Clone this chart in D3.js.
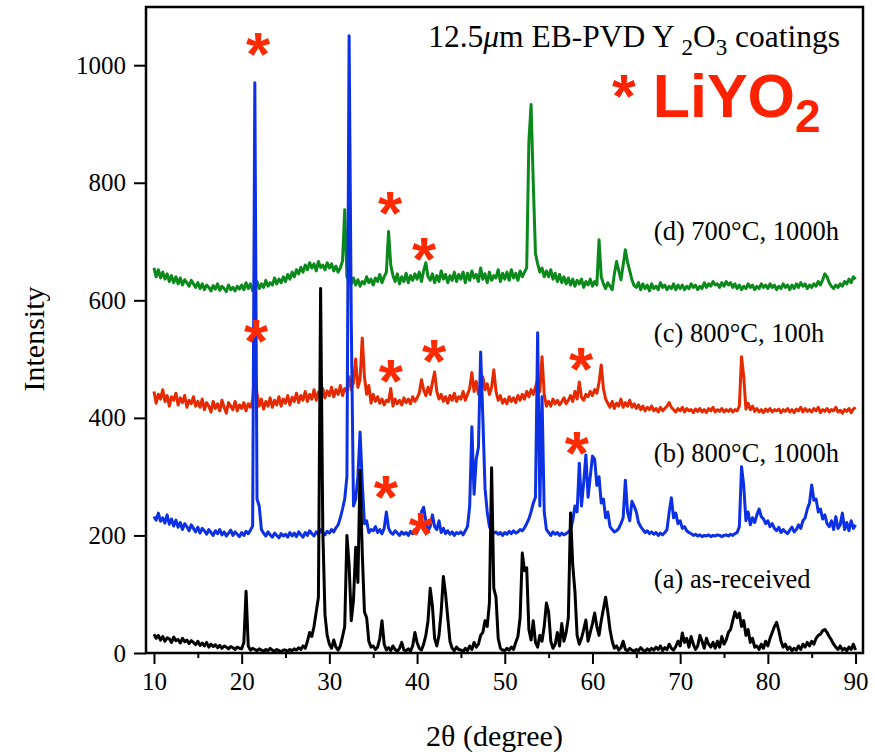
<!DOCTYPE html>
<html>
<head>
<meta charset="utf-8">
<script src="https://cdn.jsdelivr.net/npm/d3@7"></script>
<style>
    body { margin: 0; background: #fff; }
    svg { font-family: "Liberation Serif", "Times New Roman", serif; }
    .axis text { font-family: "Liberation Serif", "Times New Roman", serif; font-size: 25px; fill: #000; }
    .axis line { stroke: #000; stroke-width: 2; }
    .axis path { display: none; }
</style>
</head>
<body>
<svg id="chart"></svg>
<script>
// 2theta sampling of the scans
const twoThetaStart = 10;
const twoThetaStep = 0.25;

// (a) as-received
const scanA = [
    32,25,30,22,28,20,26,24,18,27,21,23,17,25,19,22,16,21,18,14,
    20,13,17,12,18,10,15,11,14,9,13,8,12,10,7,11,9,6,10,8,
    7,18,105,12,5,8,6,4,7,5,3,6,4,8,5,3,6,4,2,5,
    5,3,6,4,7,5,9,6,12,8,20,35,28,45,70,95,620,210,65,30,
    15,8,22,10,5,12,28,45,200,150,55,90,180,120,311,170,70,60,20,10,
    12,6,10,25,55,15,5,9,4,12,6,3,8,18,5,4,7,3,12,35,
    18,8,5,15,30,55,110,80,25,12,30,70,130,100,60,20,8,4,10,6,
    5,3,8,4,12,6,18,10,15,30,35,55,45,85,315,110,95,25,8,5,
    4,8,5,10,6,18,28,60,170,140,145,40,22,55,18,10,30,20,45,85,
    70,20,8,15,35,12,50,20,35,60,238,150,105,30,15,25,40,56,20,35,
    50,68,45,30,55,75,95,70,40,20,8,12,5,9,20,6,4,8,5,3,
    6,4,9,5,3,7,4,8,5,10,6,12,4,9,6,15,8,5,11,20,
    12,34,18,25,10,28,15,6,12,30,20,8,25,15,10,18,8,20,10,28,
    15,22,35,40,55,70,60,68,45,55,30,40,18,25,10,12,6,15,8,20,
    12,25,35,45,52,38,20,10,15,6,10,4,8,5,12,6,15,10,18,12,
    20,15,25,30,32,38,40,35,28,22,15,10,6,12,5,8,4,10,6,15,
    5
];

// (b) 800C, 1000h
const scanB = [
    232,226,238,224,230,221,235,219,228,216,226,214,222,210,220,215,208,218,212,206,
    214,204,212,208,202,210,205,200,208,203,210,201,206,199,204,209,200,206,202,198,
    205,200,207,203,209,216,970,262,250,210,204,199,206,201,197,204,200,196,203,199,
    202,197,205,199,204,198,206,201,197,205,200,208,203,199,206,202,210,205,201,207,
    204,210,206,213,218,230,245,262,300,1050,561,250,262,300,376,290,220,225,205,210,
    208,215,205,210,203,212,240,212,205,202,208,204,200,206,202,205,200,207,203,210,
    205,215,240,248,225,208,215,235,215,210,225,205,212,203,208,202,206,200,205,203,
    206,201,208,215,250,385,270,330,350,512,400,280,240,215,208,204,206,202,205,200,
    205,202,207,203,208,204,206,210,208,213,220,228,240,255,265,545,250,436,240,210,
    205,200,206,202,205,200,204,201,203,206,210,225,250,240,323,250,290,337,265,300,
    335,330,285,300,255,262,230,240,215,210,206,208,212,220,230,294,240,225,258,250,
    240,222,215,210,205,208,203,206,202,205,200,204,201,205,210,240,264,230,238,220,
    225,212,215,208,205,203,200,202,199,201,198,200,199,201,198,200,199,201,200,198,
    200,201,199,202,200,203,205,215,317,285,225,240,218,230,222,235,245,232,228,220,
    225,215,220,212,208,214,205,210,206,203,209,214,206,210,218,212,225,230,245,255,
    286,260,262,240,245,228,235,220,215,225,210,232,212,218,238,210,222,208,225,212,
    218
];

// (c) 800C, 100h
const scanC = [
    445,425,440,432,448,428,438,420,436,430,442,422,434,426,438,418,430,424,436,420,
    428,418,432,414,426,420,410,428,416,424,412,430,418,408,426,420,414,428,412,422,
    416,426,412,424,418,430,485,440,420,432,415,428,420,434,418,430,422,436,420,432,
    425,438,422,435,428,442,426,438,430,445,428,440,432,448,430,444,436,450,434,446,
    438,452,436,448,440,455,438,450,445,470,448,460,500,452,465,536,470,440,455,425,
    440,428,436,425,432,422,430,428,450,420,432,424,430,422,434,426,432,424,436,428,
    434,442,465,448,438,452,440,460,478,445,432,440,428,436,425,438,430,442,428,436,
    432,445,430,440,450,477,445,462,440,455,470,448,458,440,452,482,445,430,438,425,
    432,424,436,428,434,426,438,430,440,432,445,436,448,440,452,465,445,504,440,420,
    428,420,432,424,430,422,428,434,424,430,438,428,445,432,461,435,430,440,436,445,
    438,448,442,460,490,450,432,425,418,428,416,425,420,432,418,426,420,430,418,424,
    416,422,414,420,412,418,414,420,412,416,410,418,412,416,420,426,418,414,410,416,
    412,418,410,416,412,414,409,415,411,416,410,414,409,416,412,418,410,414,411,416,
    410,414,411,415,410,414,412,420,504,470,415,425,414,420,411,416,410,414,409,415,
    411,416,410,414,412,415,409,414,411,416,410,414,409,415,412,418,410,416,411,414,
    410,416,412,418,409,414,411,416,410,414,412,418,410,413,408,414,411,416,409,415,
    418
];

// (d) 700C, 1000h
const scanD = [
    655,640,652,638,648,636,645,632,642,630,640,628,638,626,635,630,624,634,628,622,
    630,620,628,618,626,622,616,625,619,628,617,624,620,615,626,618,622,616,624,619,
    626,618,630,620,628,616,625,632,620,628,622,634,624,630,626,638,628,636,630,640,
    632,644,636,648,640,652,645,656,648,660,652,664,655,662,650,666,656,660,652,664,
    655,662,650,658,648,655,667,754,640,632,628,638,626,635,624,632,628,640,630,636,
    626,638,632,644,630,640,648,717,660,642,632,645,628,640,632,646,630,642,634,645,
    636,648,632,650,664,640,634,645,630,642,632,650,636,644,630,642,634,648,632,644,
    636,648,630,646,634,650,638,644,632,655,636,645,630,648,634,642,638,652,632,646,
    636,648,634,652,638,646,634,650,640,648,655,870,933,800,680,662,648,655,640,650,
    640,652,636,646,632,644,630,640,628,638,626,636,624,634,628,636,622,632,626,636,
    624,632,626,703,640,628,620,630,624,618,645,666,650,635,660,686,665,650,635,625,
    622,630,618,628,620,626,616,628,620,624,618,630,622,626,618,624,620,628,618,626,
    620,626,618,624,620,628,622,626,618,624,620,630,622,628,624,632,626,628,622,630,
    624,632,626,630,622,628,620,626,618,624,620,628,622,626,618,624,620,628,622,626,
    620,628,622,626,618,624,620,628,622,626,618,626,620,628,622,630,624,628,620,626,
    622,628,624,632,626,635,645,640,630,624,620,626,622,628,624,632,628,636,630,640,
    636
];

const seriesLabels = ['(d) 700°C, 1000h', '(c) 800°C, 100h', '(b) 800°C, 1000h', '(a) as-received'];
// where each label sits: 2theta of its left edge, intensity of its baseline
const labelTwoTheta = [67, 67, 67, 67];
const labelIntensity = [702, 529, 325, 110];

// LiYO2 reflections marked with a star (2theta, intensity of the star centre)
const starTwoTheta = [21.86, 36.91, 40.79, 21.63, 37.02, 41.93, 58.69, 36.45, 40.44, 58.23];
const starIntensity = [1034, 764, 685, 546, 478, 512, 498, 281, 218, 355];

const xTicks = [10, 20, 30, 40, 50, 60, 70, 80, 90];
const xMinorTicks = [15, 25, 35, 45, 55, 65, 75, 85];
const yTicks = [0, 200, 400, 600, 800, 1000];

class XrdChart {
    constructor(_config) {
        this.config = {
            parentElement: _config.parentElement,
            containerWidth: 875,
            containerHeight: 752,
            margin: { top: 7, right: 12, bottom: 99, left: 146 }
        };
        this.scans = [
            { values: scanD, color: '#0a8a1a' },
            { values: scanC, color: '#e62a00' },
            { values: scanB, color: '#0c30e4' },
            { values: scanA, color: '#000000' }
        ];
        this.initVis();
    }

    initVis() {
        let vis = this;

        vis.width = vis.config.containerWidth - vis.config.margin.left - vis.config.margin.right;
        vis.height = vis.config.containerHeight - vis.config.margin.top - vis.config.margin.bottom;

        vis.xScale = d3.scaleLinear().domain([9.09, 90.85]).range([0, vis.width]);
        vis.yScale = d3.scaleLinear().domain([0, 1099]).range([vis.height, 0]);

        vis.svg = d3.select(vis.config.parentElement)
            .attr('width', vis.config.containerWidth)
            .attr('height', vis.config.containerHeight);

        vis.chart = vis.svg.append('g')
            .attr('transform', `translate(${vis.config.margin.left},${vis.config.margin.top})`);

        vis.chart.append('clipPath').attr('id', 'plotClip')
            .append('rect').attr('width', vis.width).attr('height', vis.height);

        vis.renderVis();
    }

    renderVis() {
        let vis = this;

        const line = d3.line()
            .x((d, i) => vis.xScale(twoThetaStart + i * twoThetaStep))
            .y(d => vis.yScale(d));

        vis.chart.append('g')
            .attr('clip-path', 'url(#plotClip)')
            .selectAll('path')
            .data(vis.scans)
            .join('path')
            .attr('fill', 'none')
            .attr('stroke', d => d.color)
            .attr('stroke-width', 3)
            .attr('stroke-linejoin', 'round')
            .attr('d', d => line(d.values));

        // frame
        vis.chart.append('rect')
            .attr('width', vis.width)
            .attr('height', vis.height)
            .attr('fill', 'none')
            .attr('stroke', '#000')
            .attr('stroke-width', 2.5);

        // axes
        vis.chart.append('g')
            .attr('class', 'axis')
            .attr('transform', `translate(0,${vis.height})`)
            .call(d3.axisBottom(vis.xScale).tickValues(xTicks).tickSize(11).tickPadding(8).tickFormat(d3.format('d')));

        vis.chart.append('g')
            .attr('class', 'axis')
            .attr('transform', `translate(0,${vis.height})`)
            .call(d3.axisBottom(vis.xScale).tickValues(xMinorTicks).tickSize(5).tickFormat(''));

        vis.chart.append('g')
            .attr('class', 'axis')
            .call(d3.axisLeft(vis.yScale).tickValues(yTicks).tickSize(12).tickPadding(8).tickFormat(d3.format('d')));

        vis.svg.append('text')
            .attr('transform', `translate(44, ${vis.config.margin.top + vis.height / 2 + 9}) rotate(-90)`)
            .attr('text-anchor', 'middle')
            .style('font-size', '30px')
            .text('Intensity');

        vis.svg.append('text')
            .attr('x', vis.config.margin.left + vis.width / 2 - 10)
            .attr('y', 746)
            .attr('text-anchor', 'middle')
            .style('font-size', '30px')
            .text('2θ (degree)');

        // series labels
        vis.chart.selectAll('.seriesLabel')
            .data(seriesLabels)
            .join('text')
            .attr('class', 'seriesLabel')
            .attr('x', (d, i) => vis.xScale(labelTwoTheta[i]))
            .attr('y', (d, i) => vis.yScale(labelIntensity[i]))
            .style('font-size', '26.5px')
            .text(d => d);

        // stars on LiYO2 peaks
        vis.chart.selectAll('.star')
            .data(starTwoTheta)
            .join('text')
            .attr('class', 'star')
            .attr('x', d => vis.xScale(d))
            .attr('y', (d, i) => vis.yScale(starIntensity[i]) + 30)
            .attr('text-anchor', 'middle')
            .style('font-family', '"Liberation Sans", Arial, sans-serif')
            .style('font-weight', 'bold')
            .style('font-size', '62px')
            .attr('fill', '#ff2a00')
            .text('*');

        // title
        const title = vis.svg.append('text')
            .attr('x', 840)
            .attr('y', 47)
            .attr('text-anchor', 'end')
            .style('font-size', '31.5px');
        title.append('tspan').text('12.5');
        title.append('tspan').style('font-style', 'italic').text('μ');
        title.append('tspan').text('m EB-PVD Y ');
        title.append('tspan').attr('dy', 8).style('font-size', '23px').text('2');
        title.append('tspan').attr('dy', -8).text('O');
        title.append('tspan').attr('dy', 8).style('font-size', '23px').text('3');
        title.append('tspan').attr('dy', -8).text(' coatings');

        const legend = vis.svg.append('text')
            .attr('x', 612)
            .attr('y', 117)
            .attr('fill', '#ff2200')
            .style('font-family', '"Liberation Sans", Arial, sans-serif')
            .style('font-weight', 'bold')
            .style('font-size', '61px');
        legend.append('tspan').text('* LiYO');
        legend.append('tspan').attr('dy', 15).style('font-size', '46px').text('2');
    }
}

new XrdChart({ parentElement: '#chart' });
</script>
</body>
</html>
